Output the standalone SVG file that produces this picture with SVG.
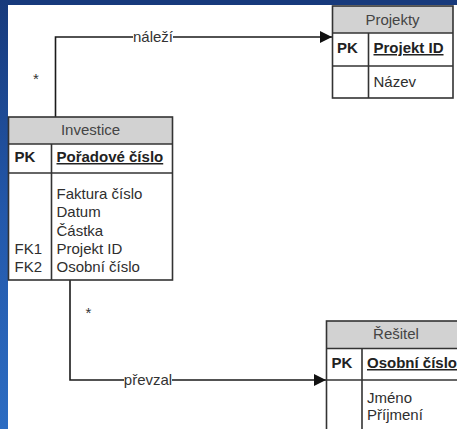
<svg xmlns="http://www.w3.org/2000/svg" width="457" height="429" viewBox="0 0 457 429">
  <defs>
    <linearGradient id="frameLeft" x1="0" y1="0" x2="0" y2="1">
      <stop offset="0" stop-color="#173a7c"/>
      <stop offset="0.5" stop-color="#2358aa"/>
      <stop offset="1" stop-color="#2c6cc2"/>
    </linearGradient>
    <marker id="arrow" viewBox="0 0 12 12" refX="12" refY="6" markerWidth="12" markerHeight="12" markerUnits="userSpaceOnUse" orient="auto">
      <path d="M0,0 L12,6 L0,12 Z" fill="#111"/>
    </marker>
  </defs>
  <style>
    text { font-family: "Liberation Sans", Arial, sans-serif; font-size: 15px; fill: #2e2e2e; }
    .hdr { fill: #d2d2d2; }
    .box { fill: none; stroke: #333; stroke-width: 1.6; }
    .rule { stroke: #333; stroke-width: 1.6; }
    .title { text-anchor: middle; fill: #444; }
    .key { font-weight: bold; fill: #222; }
    .pk { font-weight: bold; fill: #222; text-decoration: underline; }
    .conn { fill: none; stroke: #1a1a1a; stroke-width: 1.6; }
    .lbl { fill: #333; }
  </style>

  <!-- window frame -->
  <rect x="0" y="0" width="457" height="429" fill="#ffffff"/>
  <rect x="0" y="0" width="457" height="5" fill="#173a7c"/>
  <rect x="0" y="0" width="8" height="429" fill="url(#frameLeft)"/>

  <!-- connectors -->
  <g id="connectors">
    <path class="conn" d="M55.5,117 V37 H332" marker-end="url(#arrow)"/>
    <rect x="133" y="30" width="40" height="14" fill="#fff"/>
    <text class="lbl" x="153" y="42" text-anchor="middle">náleží</text>
    <text class="lbl" x="36" y="84" text-anchor="middle">*</text>

    <path class="conn" d="M70,280 V380 H326" marker-end="url(#arrow)"/>
    <rect x="124" y="373" width="48" height="14" fill="#fff"/>
    <text class="lbl" x="148" y="385" text-anchor="middle">převzal</text>
    <text class="lbl" x="88.5" y="318" text-anchor="middle">*</text>
  </g>

  <!-- Projekty -->
  <g id="projekty">
    <rect class="hdr" x="332.5" y="6" width="120.5" height="27"/>
    <rect class="box" x="332.5" y="6" width="120.5" height="92"/>
    <line class="rule" x1="332.5" y1="33" x2="453" y2="33"/>
    <line class="rule" x1="332.5" y1="66" x2="453" y2="66"/>
    <line class="rule" x1="368.5" y1="33" x2="368.5" y2="98"/>
    <text class="title" x="392.5" y="25">Projekty</text>
    <text class="key" x="337" y="53">PK</text>
    <text class="pk" x="373.5" y="53">Projekt ID</text>
    <text x="373.5" y="87">Název</text>
  </g>

  <!-- Investice -->
  <g id="investice">
    <rect class="hdr" x="8.5" y="117" width="164" height="27"/>
    <rect class="box" x="8.5" y="117" width="164" height="163"/>
    <line class="rule" x1="8.5" y1="144" x2="172.5" y2="144"/>
    <line class="rule" x1="8.5" y1="173" x2="172.5" y2="173"/>
    <line class="rule" x1="51.5" y1="144" x2="51.5" y2="280"/>
    <text class="title" x="90.5" y="135">Investice</text>
    <text class="key" x="14.5" y="162">PK</text>
    <text class="pk" x="56.5" y="162">Pořadové číslo</text>
    <text x="56.5" y="199">Faktura číslo</text>
    <text x="56.5" y="217.3">Datum</text>
    <text x="56.5" y="235.6">Částka</text>
    <text x="56.5" y="253.9">Projekt ID</text>
    <text x="56.5" y="272.2">Osobní číslo</text>
    <text x="14.5" y="253.9">FK1</text>
    <text x="14.5" y="272.2">FK2</text>
  </g>

  <!-- Řešitel -->
  <g id="resitel">
    <rect class="hdr" x="326.5" y="321" width="140" height="27.5"/>
    <rect class="box" x="326.5" y="321" width="140" height="130"/>
    <line class="rule" x1="326.5" y1="348.5" x2="466.5" y2="348.5"/>
    <line class="rule" x1="326.5" y1="380" x2="466.5" y2="380"/>
    <line class="rule" x1="362" y1="348.5" x2="362" y2="451"/>
    <text class="title" x="396" y="339">Řešitel</text>
    <text class="key" x="331.5" y="368">PK</text>
    <text class="pk" x="367" y="368">Osobní číslo</text>
    <text x="367" y="403">Jméno</text>
    <text x="367" y="420">Příjmení</text>
  </g>
</svg>
